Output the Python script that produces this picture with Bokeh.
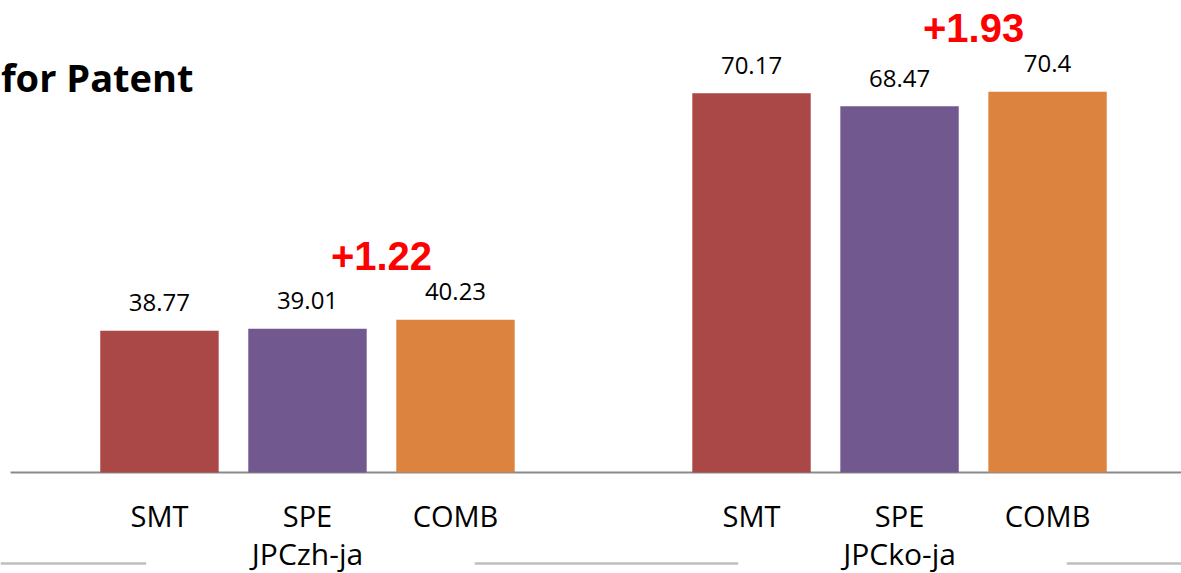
from bokeh.plotting import figure
from bokeh.models import ColumnDataSource, Range1d, Label
from bokeh.core.properties import value
from bokeh.embed import file_html
from bokeh.resources import INLINE

# Scores per language pair
groups = ["JPCzh-ja", "JPCko-ja"]
systems = ["SMT", "SPE", "COMB"]
scores = {
    "JPCzh-ja": [38.77, 39.01, 40.23],
    "JPCko-ja": [70.17, 68.47, 70.40],
}
colors = ["#A94846", "#71588F", "#DC843F"]

BASE = 20.0          # value where the bars start
GROUP_STEP = 4       # slots per group (3 bars + 1 gap)

xs, tops, cols, labels, names = [], [], [], [], []
for g, grp in enumerate(groups):
    for i, s in enumerate(systems):
        xs.append(g * GROUP_STEP + i)
        tops.append(scores[grp][i])
        cols.append(colors[i])
        labels.append(f"{scores[grp][i]:g}")
        names.append(s)

src = ColumnDataSource(dict(x=xs, top=tops, color=cols, label=labels, name=names,
                            bottom=[BASE] * len(xs)))

X0, X1 = -1.074, 6.905
p = figure(width=1181, height=573, output_backend="svg", toolbar_location=None,
           x_range=Range1d(X0, X1), y_range=Range1d(6.635, 82.46),
           x_axis_location=None, y_axis_location=None, min_border=0,
           outline_line_color=None, background_fill_color="white")
p.xgrid.visible = False
p.ygrid.visible = False

# baseline
p.segment(x0=[X0 + 0.068], x1=[X1], y0=[BASE], y1=[BASE], line_color="#898989", line_width=2)

# bars
p.vbar(x="x", top="top", bottom="bottom", width=0.8, fill_color="color",
       line_color=None, source=src)

# value labels above bars
p.text(x="x", y="top", text="label", source=src, text_align="center",
       text_baseline="middle", y_offset=-28, text_font=value("Open Sans"),
       text_font_size="24px", text_color="#000000")

# system labels under the baseline
p.text(x="x", y="bottom", text="name", source=src, text_align="center",
       text_baseline="middle", y_offset=43, text_font=value("Open Sans"),
       text_font_size="29px", text_color="#000000")

# language pair labels
gx = [g * GROUP_STEP + 1 for g in range(len(groups))]
p.text(x=gx, y=[BASE] * len(groups), text=groups, text_align="center",
       text_baseline="middle", y_offset=81, text_font=value("Open Sans"),
       text_font_size="30px", text_color="#000000")

# separators between the group labels
half_gap = 1.11
sep_y = 7.96
gc = [c + 0.02 for c in gx]
x0 = [X0] + [c + half_gap for c in gc]
x1 = [c - half_gap for c in gc] + [X1]
p.segment(x0=x0, x1=x1, y0=[sep_y] * len(x0), y1=[sep_y] * len(x0),
          line_color="#BFBFBF", line_width=2.5)

# gain of COMB over SPE
dx, dy, dt = [], [], []
for g, grp in enumerate(groups):
    spe, comb = scores[grp][1], scores[grp][2]
    dx.append(g * GROUP_STEP + 1.5)
    dy.append(comb)
    dt.append(f"+{comb - spe:.2f}")
p.text(x=dx, y=dy, text=dt, text_align="center", text_baseline="middle",
       y_offset=-64, text_font=value("Liberation Sans"), text_font_style="bold",
       text_font_size="40px", text_color="#FF0000")

p.add_layout(Label(x=193, y=573 - 76, x_units="screen", y_units="screen",
                   text="for Patent", text_align="right", text_baseline="alphabetic",
                   text_font="Open Sans", text_font_style="bold",
                   text_font_size="38px", text_color="#000000"))

open("out.html", "w").write(file_html(p, INLINE))
